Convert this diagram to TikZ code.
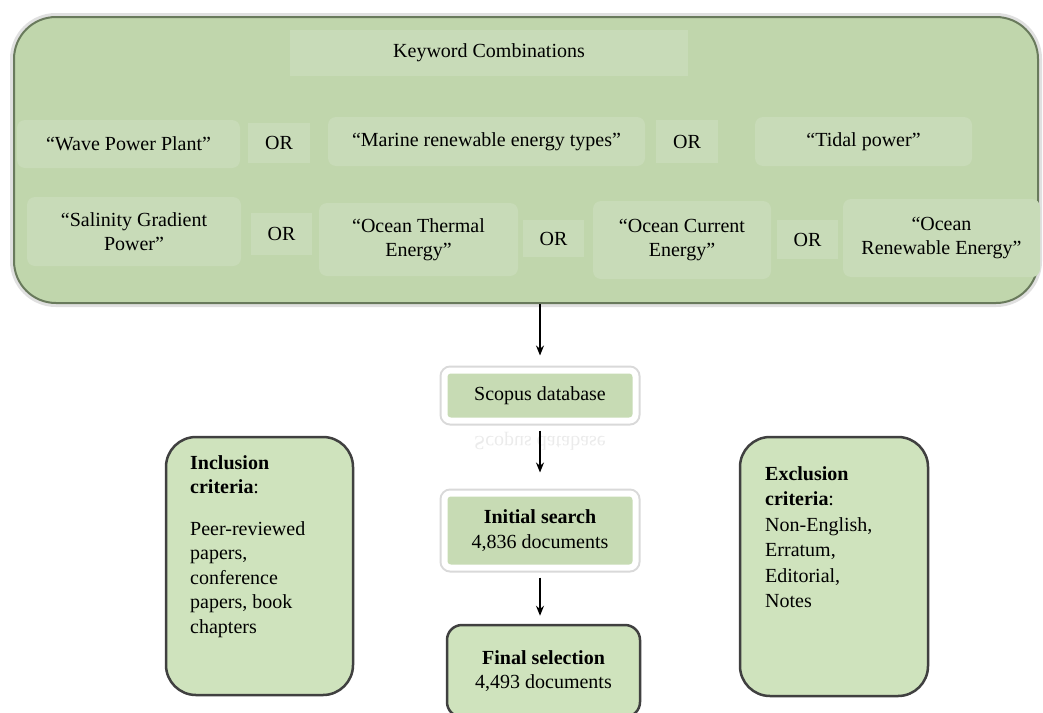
\documentclass[tikz,border=0pt]{standalone}
\usepackage{fontspec}
\setmainfont{Liberation Serif}
\usetikzlibrary{arrows.meta}
\definecolor{bigfill}{RGB}{192,214,172}
\definecolor{keyfill}{RGB}{200,219,184}
\definecolor{stepfill}{RGB}{199,219,180}
\definecolor{critfill}{RGB}{207,227,189}
\definecolor{rimcol}{RGB}{105,122,92}
\begin{document}
\begin{tikzpicture}[x=1pt,y=-1pt,>={Stealth[length=10pt,width=8pt]},
  txt/.style={font=\fontsize{20}{24.5}\selectfont},
  keybox/.style={txt,fill=keyfill,rounded corners=8pt,align=center,inner sep=0pt},
  orbox/.style={txt,fill=keyfill,inner sep=0pt},
  framebox/.style={txt,fill=stepfill,draw=white,line width=6pt,rounded corners=6pt,align=center,inner sep=0pt,
    preaction={draw=black!15,line width=10pt}},
  darkbox/.style={txt,fill=critfill,draw=black!75,line width=2.5pt,align=center,inner sep=0pt}]
\useasboundingbox[fill=white] (0,0) rectangle (1043,712);

    \node[fill=bigfill,draw=rimcol,line width=2pt,rounded corners=42pt,minimum width=1024pt,minimum height=286pt,
      preaction={draw=black!12,line width=8pt}] (v0) at (526,160) {};
    \node[orbox,minimum width=398pt,minimum height=46pt] (v1) at (489,53) {Keyword Combinations};
    \node[keybox,minimum width=223pt,minimum height=48pt] (v2) at (128.5,144) {“Wave Power Plant”};
    \node[orbox,minimum width=62pt,minimum height=40pt] (v3) at (279,143) {OR};
    \node[keybox,minimum width=317pt,minimum height=49pt] (v4) at (486.5,141.5) {“Marine renewable energy types”};
    \node[orbox,minimum width=62pt,minimum height=43pt] (v5) at (687,141.5) {OR};
    \node[keybox,minimum width=217pt,minimum height=49pt] (v6) at (863.5,141.5) {“Tidal power”};
    \node[keybox,minimum width=214pt,minimum height=69pt] (v7) at (134,231.5) {“Salinity Gradient\\Power”};
    \node[orbox,minimum width=61pt,minimum height=42pt] (v8) at (281.5,234) {OR};
    \node[keybox,minimum width=199pt,minimum height=73pt] (v9) at (418.5,239.5) {“Ocean Thermal\\Energy”};
    \node[orbox,minimum width=61pt,minimum height=37pt] (v10) at (553.5,238.5) {OR};
    \node[keybox,minimum width=178pt,minimum height=78pt] (v11) at (682,240) {“Ocean Current\\Energy”};
    \node[orbox,minimum width=61pt,minimum height=39pt] (v12) at (807.5,239.5) {OR};
    \node[keybox,minimum width=197pt,minimum height=78pt] (v13) at (941.5,238) {“Ocean\\Renewable Energy”};

    \node[framebox,minimum width=191pt,minimum height=50pt] (v14) at (540,395.5) {Scopus database};
    \node[txt,opacity=0.08,yscale=-1,transform shape] (v15) at (540,441) {Scopus database};
    \node[framebox,minimum width=191pt,minimum height=74pt] (v16) at (540,530.5) {\textbf{Initial search}\\4,836 documents};
    \node[darkbox,rounded corners=15pt,minimum width=193pt,minimum height=92pt] (v17) at (543.5,671) {\textbf{Final selection}\\4,493 documents};

    \node[darkbox,rounded corners=30pt,minimum width=187pt,minimum height=258pt] (v18) at (259.5,566) {};
    \node[txt,anchor=north west,align=left,inner sep=0pt] (v19) at (190,455)
      {\textbf{Inclusion}\\\textbf{criteria}:\\[17pt]Peer-reviewed\\papers,\\conference\\papers, book\\chapters};
    \node[darkbox,rounded corners=30pt,minimum width=188pt,minimum height=259pt] (v20) at (834,566.5) {};
    \node[txt,anchor=north west,align=left,inner sep=0pt,font=\fontsize{20}{25.5}\selectfont] (v21) at (765,466)
      {\textbf{Exclusion}\\\textbf{criteria}:\\Non-English,\\Erratum,\\Editorial,\\Notes};

    \draw[->,line width=1.5pt,shorten >=12pt]  (v0.south -| v14) -- (v14);
    \draw[->,line width=1.5pt,shorten <=7pt,shorten >=18pt]  (v14) -- (v16);
    \draw[->,line width=1.5pt,shorten <=7pt,shorten >=8pt]  (v16) -- (v16 |- v17.north);
\end{tikzpicture}
\end{document}
